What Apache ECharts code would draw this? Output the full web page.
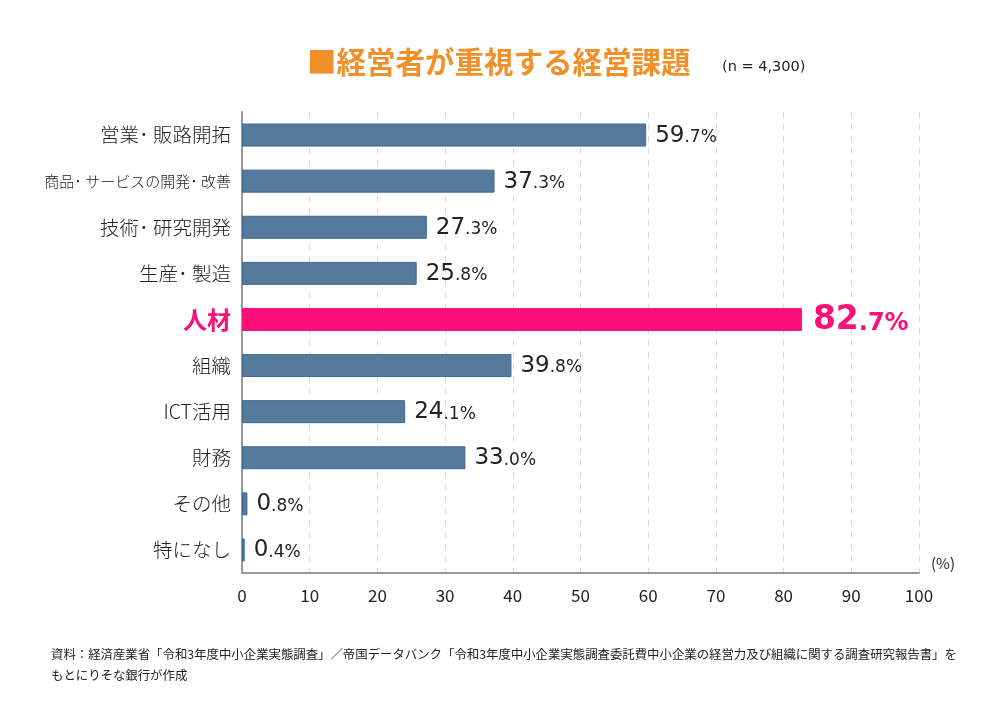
<!DOCTYPE html>
<html><head><meta charset="utf-8">
<script src="https://cdn.jsdelivr.net/npm/echarts@6/dist/echarts.min.js"></script>
<style>html,body{margin:0;padding:0;background:#fff}#c{width:1000px;height:721px}</style>
</head><body><div id="c"></div>
<script>
const categories = ['営業･ 販路開拓','商品･ サービスの開発･ 改善','技術･ 研究開発','生産･ 製造','人材','組織','ICT活用','財務','その他','特になし'];
const values = [59.7, 37.3, 27.3, 25.8, 82.7, 39.8, 24.1, 33.0, 0.8, 0.4];
const highlight = '人材';
const smallLabel = '商品･ サービスの開発･ 改善';
const xTicks = [0,10,20,30,40,50,60,70,80,90,100];

const JP = '"Noto Sans CJK JP", sans-serif';
const NUM = 'DejaVu Sans';
const blue = '#567a9c', pink = '#fd0f7a';

const data = values.map((v, i) => {
  const hi = categories[i] === highlight;
  return {
    value: v,
    itemStyle: hi ? {color: pink, borderColor: pink, borderWidth: 1} : {color: blue, borderColor: '#3d6896', borderWidth: 1},
    label: {
      show: true, position: 'right', distance: hi ? 11 : 9,
      formatter: p => {
        const s = p.value.toFixed(1).split('.');
        return hi ? `{pi|${s[0]}}{pd|.${s[1]}%}` : `{i|${s[0]}}{d|.${s[1]}%}`;
      },
      rich: {
        i: {fontFamily: NUM, fontSize: 23, color: '#222', verticalAlign: 'bottom', lineHeight: 24},
        d: {fontFamily: NUM, fontSize: 17, color: '#222', verticalAlign: 'bottom', lineHeight: 22, padding: [0,0,1,0]},
        pi: {fontFamily: NUM, fontSize: 33, fontWeight: 'bold', color: pink, verticalAlign: 'bottom', lineHeight: 34},
        pd: {fontFamily: NUM, fontSize: 24, fontWeight: 'bold', color: pink, verticalAlign: 'bottom', lineHeight: 30, padding: [0,0,1,0]}
      }
    }
  };
});

const chart = echarts.init(document.getElementById('c'), null, {renderer: 'canvas'});
chart.setOption({
  animation: false,
  backgroundColor: '#fff',
  title: [
    {text: '■経営者が重視する経営課題', left: 302, top: 42,
     textStyle: {fontFamily: JP, fontSize: 29.5, fontWeight: 'bold', color: '#f0902a'}},
    {text: '(n = 4,300)', left: 717, top: 55,
     textStyle: {fontFamily: NUM, fontSize: 14.5, fontWeight: 'normal', color: '#222'}},
    {text: '資料：経済産業省「令和3年度中小企業実態調査」／帝国データバンク「令和3年度中小企業実態調査委託費中小企業の経営力及び組織に関する調査研究報告書」を\nもとにりそな銀行が作成',
     left: 46, top: 639,
     textStyle: {fontFamily: JP, fontSize: 12.4, fontWeight: 'normal', color: '#222', lineHeight: 21}}
  ],
  grid: {left: 242, right: 81, top: 112, bottom: 148, containLabel: false},
  xAxis: {
    type: 'value', min: 0, max: 100, interval: 10,
    name: '(%)', nameLocation: 'end', nameGap: 12,
    nameTextStyle: {fontFamily: JP, fontSize: 15, color: '#222', verticalAlign: 'bottom', padding: [0,0,2,0]},
    axisLine: {show: true, lineStyle: {color: '#999', width: 2}},
    axisTick: {show: false},
    axisLabel: {fontFamily: JP, fontSize: 17, color: '#222', margin: 14,
      formatter: v => xTicks.includes(v) ? String(v) : ''},
    splitLine: {show: true, lineStyle: {color: '#d8d8d8', type: [6, 6], width: 1}}
  },
  yAxis: {
    type: 'category', data: categories, inverse: true,
    axisLine: {show: true, lineStyle: {color: '#999', width: 2}},
    axisTick: {show: false},
    axisLabel: {margin: 11,
      formatter: v => v === highlight ? `{h|${v}}` : (v === smallLabel ? `{s|${v}}` : `{n|${v}}`),
      rich: {
        n: {fontFamily: JP, fontSize: 19.5, fontWeight: 300, color: '#222'},
        s: {fontFamily: JP, fontSize: 15, fontWeight: 300, color: '#222'},
        h: {fontFamily: JP, fontSize: 24, fontWeight: 'bold', color: pink}
      }
    }
  },
  series: [{
    type: 'bar', data: data, barWidth: 23
  }]
});
</script></body></html>
